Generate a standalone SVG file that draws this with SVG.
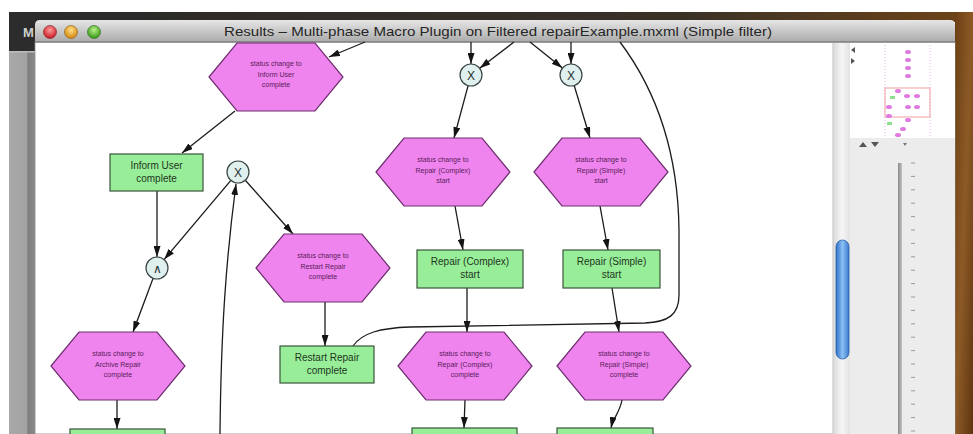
<svg xmlns="http://www.w3.org/2000/svg" xmlns:xlink="http://www.w3.org/1999/xlink" width="973" height="434" viewBox="0 0 973 434">
  <style>
    .hex { fill: #ef84ee; stroke: #6e2f6e; stroke-width: 1.2; }
    .box { fill: #98ee98; stroke: #3b553b; stroke-width: 1.2; }
    .gw { fill: #e0f0ef; stroke: #3a4646; stroke-width: 1.2; }
    .edge { fill: none; stroke: #1c1c1c; stroke-width: 1.3; }
    .arr { marker-end: url(#head); }
    .ht { font-family: "Liberation Sans", Arial, sans-serif; font-size: 7px; fill: #5a1c5a; text-anchor: middle; }
    .bt { font-family: "Liberation Sans", Arial, sans-serif; font-size: 10px; fill: #1e361e; text-anchor: middle; }
    .gt { font-family: "Liberation Sans", Arial, sans-serif; font-size: 12px; fill: #263030; text-anchor: middle; }
    .title { font-family: "Liberation Sans", "DejaVu Sans", Arial, sans-serif; font-size: 13px; fill: #262626; }
    .tick { stroke: #9a9a9a; stroke-width: 1; }
    .mini { fill: #e07ae0; }
  </style>
  <defs>
    <marker id="head" viewBox="0 0 11 7" refX="11" refY="3.5" markerWidth="11" markerHeight="7" markerUnits="userSpaceOnUse" orient="auto">
      <path d="M0,0 L11,3.5 L0,7 Z" fill="#141414"/>
    </marker>
    <polygon id="hexShape" points="-67,0 -39,-34 39,-34 67,0 39,34 -39,34"/>
    <linearGradient id="titleGrad" x1="0" y1="0" x2="0" y2="1">
      <stop offset="0" stop-color="#e6e6e6"/>
      <stop offset="1" stop-color="#aaaaaa"/>
    </linearGradient>
    <linearGradient id="wood" x1="0" y1="0" x2="1" y2="1">
      <stop offset="0" stop-color="#6b3f14"/>
      <stop offset="0.5" stop-color="#8c5a26"/>
      <stop offset="1" stop-color="#5e3510"/>
    </linearGradient>
    <linearGradient id="topStrip" x1="0" y1="0" x2="1" y2="0">
      <stop offset="0" stop-color="#2a2a2a"/>
      <stop offset="0.7" stop-color="#3a3126"/>
      <stop offset="1" stop-color="#6e4418"/>
    </linearGradient>
    <linearGradient id="leftGray" x1="0" y1="0" x2="1" y2="0">
      <stop offset="0" stop-color="#a9a9a9"/>
      <stop offset="0.65" stop-color="#a2a2a2"/>
      <stop offset="0.7" stop-color="#7e7e7e"/>
      <stop offset="1" stop-color="#8c8c8c"/>
    </linearGradient>
    <linearGradient id="thumb" x1="0" y1="0" x2="1" y2="0">
      <stop offset="0" stop-color="#2f6fc8"/>
      <stop offset="0.5" stop-color="#8cc0f4"/>
      <stop offset="1" stop-color="#3a7ad0"/>
    </linearGradient>
    <linearGradient id="track" x1="0" y1="0" x2="1" y2="0">
      <stop offset="0" stop-color="#dcdcdc"/>
      <stop offset="0.5" stop-color="#f6f6f6"/>
      <stop offset="1" stop-color="#e2e2e2"/>
    </linearGradient>
    <linearGradient id="rod" x1="0" y1="0" x2="1" y2="0">
      <stop offset="0" stop-color="#8a8a8a"/>
      <stop offset="1" stop-color="#c4c4c4"/>
    </linearGradient>
    <radialGradient id="red" cx="0.5" cy="0.35" r="0.6">
      <stop offset="0" stop-color="#ff9a9a"/>
      <stop offset="1" stop-color="#c8202a"/>
    </radialGradient>
    <radialGradient id="yellow" cx="0.5" cy="0.35" r="0.6">
      <stop offset="0" stop-color="#ffe08a"/>
      <stop offset="1" stop-color="#d68a10"/>
    </radialGradient>
    <radialGradient id="green" cx="0.5" cy="0.35" r="0.6">
      <stop offset="0" stop-color="#b8f08a"/>
      <stop offset="1" stop-color="#3c9a1c"/>
    </radialGradient>
  </defs>

  <!-- desktop behind the window -->
  <rect x="0" y="0" width="973" height="434" fill="#ffffff"/>
  <rect x="9" y="12" width="964" height="10" fill="url(#topStrip)"/>
  <rect x="9" y="12" width="27" height="40" fill="#2c2c2c"/>
  <text x="23" y="37" font-family="Liberation Sans, Arial, sans-serif" font-size="13" font-weight="bold" fill="#cfcfcf">M</text>
  <rect x="9" y="52" width="27" height="382" fill="url(#leftGray)"/>
  <rect x="9" y="51" width="27" height="1.5" fill="#bdbdbd"/>
  <rect x="955" y="12" width="18" height="422" fill="url(#wood)"/>

  <!-- window -->
  <rect x="35" y="42" width="920" height="392" fill="#ffffff" stroke="#8a8a8a" stroke-width="0.8"/>
  <path d="M35,42 L35,25 Q35,20 40,20 L950,20 Q955,20 955,25 L955,42 Z" fill="url(#titleGrad)"/>
  <line x1="35" y1="42" x2="955" y2="42" stroke="#676767" stroke-width="1"/>
  <circle cx="50" cy="32" r="6.5" fill="url(#red)" stroke="#8a1a1a" stroke-width="0.6"/>
  <circle cx="71" cy="32" r="6.5" fill="url(#yellow)" stroke="#8a5a10" stroke-width="0.6"/>
  <circle cx="94" cy="32" r="6.5" fill="url(#green)" stroke="#2a6a14" stroke-width="0.6"/>
  <text class="title" x="224" y="36" textLength="548" lengthAdjust="spacingAndGlyphs">Results – Multi-phase Macro Plugin on Filtered repairExample.mxml (Simple filter)</text>

  <!-- side panel: scroll bar, overview, zoom slider -->
  <rect x="833" y="43" width="122" height="391" fill="#ececec"/>
  <line x1="833" y1="43" x2="833" y2="434" stroke="#bcbcbc"/>
  <rect x="834" y="43" width="16" height="391" fill="url(#track)"/>
  <rect x="836" y="240" width="13" height="119" rx="6.5" fill="url(#thumb)" stroke="#2a5fa8" stroke-width="0.8"/>
  <rect x="850" y="43" width="105" height="95" fill="#ffffff"/>
  <polygon points="855,47 851,50 855,53" fill="#555"/>
  <polygon points="851,58 855,61 851,64" fill="#555"/>
  <line x1="885" y1="45" x2="885" y2="137" stroke="#e6b8e6" stroke-dasharray="1,2"/>
  <line x1="930" y1="45" x2="930" y2="137" stroke="#e6b8e6" stroke-dasharray="1,2"/>
  <rect x="885" y="88" width="45" height="29" fill="none" stroke="#ee8a8a" stroke-width="0.8"/>
  <g class="mini">
    <ellipse cx="908" cy="52" rx="3" ry="2"/>
    <ellipse cx="908" cy="60" rx="3" ry="2"/>
    <ellipse cx="908" cy="68" rx="3" ry="2"/>
    <ellipse cx="908" cy="76" rx="3" ry="2"/>
    <ellipse cx="898" cy="91" rx="3" ry="2"/>
    <ellipse cx="907" cy="96" rx="3" ry="2"/>
    <ellipse cx="917" cy="96" rx="3" ry="2"/>
    <ellipse cx="889" cy="107" rx="3" ry="2"/>
    <ellipse cx="908" cy="107" rx="3" ry="2"/>
    <ellipse cx="917" cy="107" rx="3" ry="2"/>
    <ellipse cx="889" cy="116" rx="3" ry="2"/>
    <ellipse cx="908" cy="120" rx="3" ry="2"/>
    <ellipse cx="903" cy="129" rx="3" ry="2"/>
    <ellipse cx="898" cy="135" rx="3" ry="2"/>
  </g>
  <rect x="890" y="96" width="5" height="3" fill="#8ee08e"/>
  <rect x="887" y="122" width="5" height="3" fill="#8ee08e"/>
  <polygon points="859,147 863,142 867,147" fill="#555"/>
  <polygon points="871,142 879,142 875,147" fill="#555"/>
  <polygon points="903,143 907,143 905,146" fill="#777"/>
  <rect x="898" y="163" width="4" height="271" fill="url(#rod)"/>
  <path class="tick" d="M911,163h4M911,176.4h4M911,189.8h4M911,203.2h4M911,216.6h4M911,230h4M911,243.4h4M911,256.8h4M911,270.2h4M911,283.6h4M911,297h4M911,310.4h4M911,323.8h4M911,337.2h4M911,350.6h4M911,364h4M911,377.4h4M911,390.8h4M911,404.2h4M911,417.6h4M911,431h4"/>

  <!-- connectors -->
  <g id="connectors">
    <path class="edge arr" d="M365,42 L329,57"/>
    <path class="edge arr" d="M235,111 L182,153"/>
    <path class="edge arr" d="M157,191 L157,257"/>
    <path class="edge arr" d="M230.9,180.4 L164.1,259.6"/>
    <path class="edge arr" d="M220,434 C221,330 226,260 236,184"/>
    <path class="edge arr" d="M245.3,180.2 L293,234"/>
    <path class="edge arr" d="M325,302 L325,346"/>
    <path class="edge arr" d="M153.1,278.3 L133,332"/>
    <path class="edge arr" d="M117,400 L117,429"/>
    <path class="edge arr" d="M471,42 L471,64"/>
    <path class="edge arr" d="M514,42 L479.7,68.3"/>
    <path class="edge arr" d="M571,42 L571,64"/>
    <path class="edge arr" d="M530,42 L562.4,68.1"/>
    <path class="edge arr" d="M468.1,85.6 L454,138"/>
    <path class="edge arr" d="M574.2,85.5 L590,138"/>
    <path class="edge arr" d="M455,206 L463,250"/>
    <path class="edge arr" d="M600,206 L608,250"/>
    <path class="edge arr" d="M467,288 L467,332"/>
    <path class="edge arr" d="M612,288 L619,332"/>
    <path class="edge arr" d="M465,400 L464,428"/>
    <path class="edge arr" d="M622,400 C620,412 613,418 611,428"/>
    <path class="edge" d="M620,42 C650,82 678,140 679,230 L679,295 C679,315 668,322 645,323 L410,327 C380,328 362,333 353,346"/>
  </g>

  <!-- events -->
  <g id="ev-inform-user">
    <use href="#hexShape" class="hex" x="276" y="77"/>
    <text class="ht" x="276" y="66">status change to</text>
    <text class="ht" x="276" y="76.5">Inform User</text>
    <text class="ht" x="276" y="87">complete</text>
  </g>
  <g id="ev-repair-complex-start">
    <use href="#hexShape" class="hex" x="443" y="172"/>
    <text class="ht" x="443" y="162">status change to</text>
    <text class="ht" x="443" y="172.5">Repair (Complex)</text>
    <text class="ht" x="443" y="183">start</text>
  </g>
  <g id="ev-repair-simple-start">
    <use href="#hexShape" class="hex" x="601" y="172"/>
    <text class="ht" x="601" y="162">status change to</text>
    <text class="ht" x="601" y="172.5">Repair (Simple)</text>
    <text class="ht" x="601" y="183">start</text>
  </g>
  <g id="ev-restart-repair">
    <use href="#hexShape" class="hex" x="323" y="268"/>
    <text class="ht" x="323" y="258">status change to</text>
    <text class="ht" x="323" y="268.5">Restart Repair</text>
    <text class="ht" x="323" y="279">complete</text>
  </g>
  <g id="ev-archive-repair">
    <use href="#hexShape" class="hex" x="118" y="366"/>
    <text class="ht" x="118" y="356">status change to</text>
    <text class="ht" x="118" y="366.5">Archive Repair</text>
    <text class="ht" x="118" y="377">complete</text>
  </g>
  <g id="ev-repair-complex-complete">
    <use href="#hexShape" class="hex" x="465" y="366"/>
    <text class="ht" x="465" y="356">status change to</text>
    <text class="ht" x="465" y="366.5">Repair (Complex)</text>
    <text class="ht" x="465" y="377">complete</text>
  </g>
  <g id="ev-repair-simple-complete">
    <use href="#hexShape" class="hex" x="624" y="366"/>
    <text class="ht" x="624" y="356">status change to</text>
    <text class="ht" x="624" y="366.5">Repair (Simple)</text>
    <text class="ht" x="624" y="377">complete</text>
  </g>

  <!-- functions -->
  <g id="fn-inform-user-complete">
    <rect class="box" x="110" y="154" width="93" height="37"/>
    <text class="bt" x="156.5" y="169">Inform User</text>
    <text class="bt" x="156.5" y="182">complete</text>
  </g>
  <g id="fn-repair-complex-start">
    <rect class="box" x="417" y="250" width="106" height="38"/>
    <text class="bt" x="470" y="265">Repair (Complex)</text>
    <text class="bt" x="470" y="278">start</text>
  </g>
  <g id="fn-repair-simple-start">
    <rect class="box" x="563" y="250" width="97" height="38"/>
    <text class="bt" x="611.5" y="265">Repair (Simple)</text>
    <text class="bt" x="611.5" y="278">start</text>
  </g>
  <g id="fn-restart-repair-complete">
    <rect class="box" x="280" y="346" width="94" height="37"/>
    <text class="bt" x="327" y="361">Restart Repair</text>
    <text class="bt" x="327" y="374">complete</text>
  </g>
  <g id="fn-archive-repair">
    <rect class="box" x="70" y="429" width="95" height="12"/>
  </g>
  <g id="fn-repair-complex-complete">
    <rect class="box" x="412" y="428" width="105" height="12"/>
  </g>
  <g id="fn-repair-simple-complete">
    <rect class="box" x="557" y="428" width="96" height="12"/>
  </g>

  <!-- gateways -->
  <g id="gw-xor-restart">
    <circle class="gw" cx="238" cy="172" r="11"/>
    <text class="gt" x="238" y="176.5">X</text>
  </g>
  <g id="gw-and-archive">
    <circle class="gw" cx="157" cy="268" r="11"/>
    <text class="gt" x="157" y="273">∧</text>
  </g>
  <g id="gw-xor-complex">
    <circle class="gw" cx="471" cy="75" r="11"/>
    <text class="gt" x="471" y="79.5">X</text>
  </g>
  <g id="gw-xor-simple">
    <circle class="gw" cx="571" cy="75" r="11"/>
    <text class="gt" x="571" y="79.5">X</text>
  </g>
</svg>
